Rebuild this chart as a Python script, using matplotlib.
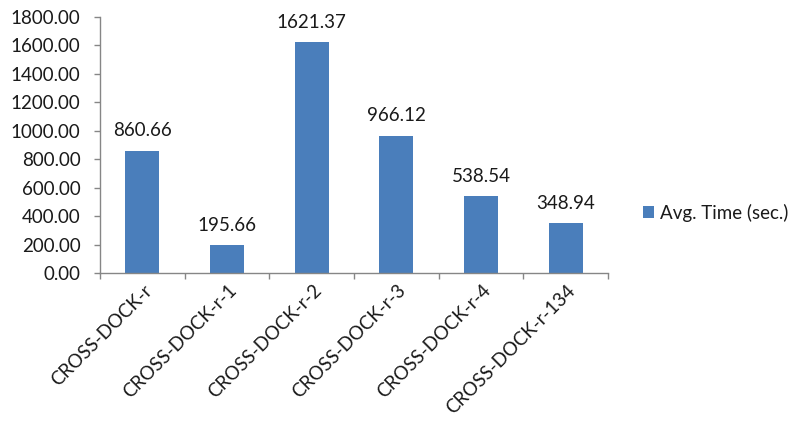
import matplotlib
matplotlib.use("Agg")
import matplotlib.pyplot as plt
import matplotlib.transforms as mtransforms
import numpy as np

categories = ["CROSS-DOCK-r", "CROSS-DOCK-r-1", "CROSS-DOCK-r-2",
              "CROSS-DOCK-r-3", "CROSS-DOCK-r-4", "CROSS-DOCK-r-134"]
values = [860.66, 195.66, 1621.37, 966.12, 538.54, 348.94]
series_name = "Avg. Time (sec.)"
yticks = [0, 200, 400, 600, 800, 1000, 1200, 1400, 1600, 1800]

plt.rcParams['font.family'] = ['Lato', 'DejaVu Sans']
fs = 13.5
bar_color = "#4A7EBB"
axis_color = "#868686"
text_color = "#1a1a1a"

fig = plt.figure(figsize=(7.96, 4.21), dpi=100)
ax = fig.add_axes([100/796, 1 - 273/421, (608-100)/796, (273-17)/421])

x = np.arange(len(categories))
ax.bar(x, values, width=0.4, color=bar_color, label=series_name, zorder=2)
for xi, v in zip(x, values):
    ax.annotate(f"{v:.2f}", (xi, v), xytext=(0, 8), textcoords="offset points",
                ha="center", va="bottom", fontsize=fs, color=text_color)

ax.set_xlim(-0.5, len(categories) - 0.5)
ax.set_ylim(0, 1800)
ax.set_yticks(yticks)
ax.set_yticklabels([f"{t:.2f}" for t in yticks], fontsize=fs, color=text_color)
ax.tick_params(axis="y", length=4, width=1, color=axis_color, pad=10)

ax.set_xticks(np.arange(-0.5, len(categories), 1.0))
ax.set_xticklabels([])
ax.tick_params(axis="x", length=4, width=1, color=axis_color)

for xi, c in zip(x, categories):
    offset = mtransforms.ScaledTranslation(5/72, -10.5/72, fig.dpi_scale_trans)
    ax.text(xi, 0, c, rotation=45, ha="right", va="center", rotation_mode="anchor",
            fontsize=fs, color=text_color,
            transform=ax.get_xaxis_transform() + offset)

for s in ["top", "right"]:
    ax.spines[s].set_visible(False)
for s in ["left", "bottom"]:
    ax.spines[s].set_color(axis_color)
    ax.spines[s].set_linewidth(1)

leg = fig.legend(loc="center left", bbox_to_anchor=(626/796, 1 - 213/421),
                 frameon=False, fontsize=fs, handlelength=0.6, handleheight=0.6,
                 handletextpad=0.3)
for t in leg.get_texts():
    t.set_color(text_color)

fig.savefig("out.png", dpi=100)
